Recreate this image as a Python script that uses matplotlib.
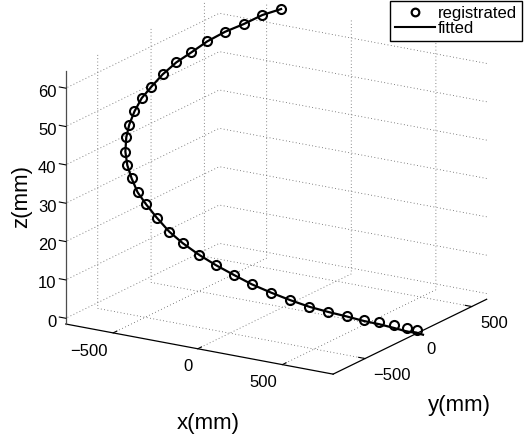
import matplotlib
matplotlib.use('Agg')
import matplotlib.pyplot as plt
from matplotlib.lines import Line2D
from matplotlib.transforms import ScaledTranslation

plt.rcParams['font.family'] = ['Liberation Sans', 'DejaVu Sans']

# --- registrated points (mm) ---
reg_x = [783, 790, 780, 754, 718, 668, 607, 538, 460, 377, 289, 198,
         102, 6, -93, -181, -270, -354, -427, -487, -538, -601, -655,
         -687, -713, -728, -719, -712, -695, -658, -626, -580, -521,
         -477, -409]
reg_y = [16, -95, -197, -295, -381, -464, -540, -608, -666, -713, -750,
         -777, -794, -800, -794, -781, -757, -723, -686, -647, -607, -525,
         -431, -352, -262, -170, -94, 1, 102, 185, 283, 378, 459, 564, 631]
reg_z = [-1.1, 0.9, 2.9, 4.8, 6.3, 8.1, 9.6, 11.3, 13.2, 15.1, 17.0, 19.1,
         21.1, 23.1, 25.2, 27.3, 29.9, 32.2, 34.2, 36.8, 39.3, 41.2, 43.2,
         45.2, 47.2, 49.3, 51.3, 53.3, 55.2, 57.0, 58.8, 60.4, 61.8, 63.1,
         64.3]

# --- fitted curve (mm) ---
fit_x = [815, 783, 790, 780, 754, 718, 668, 607, 538, 460, 377, 289, 198,
         102, 6, -93, -181, -270, -354, -427, -487, -538, -601, -655,
         -687, -713, -728, -719, -712, -695, -658, -626, -580, -521,
         -477, -409]
fit_y = [19, 16, -95, -197, -295, -381, -464, -540, -608, -666, -713, -750,
         -777, -794, -800, -794, -781, -757, -723, -686, -647, -607, -525,
         -431, -352, -262, -170, -94, 1, 102, 185, 283, 378, 459, 564, 631]
fit_z = [-2.2, -2.0, 0.0, 2.2, 4.3, 6.0, 7.9, 9.6, 11.3, 13.2, 15.1, 17.0,
         19.1, 21.1, 23.1, 25.2, 27.3, 29.9, 32.2, 34.2, 36.8, 39.3, 41.2,
         43.2, 45.2, 47.2, 49.3, 51.3, 53.3, 55.2, 57.0, 58.8, 60.4, 61.8,
         63.1, 64.3]

x_lim = (-780, 800)
y_lim = (-800, 640)
z_lim = (-1.5, 64.6)
x_ticks = [-500, 0, 500]
y_ticks = [-500, 0, 500]
z_ticks = [0, 10, 20, 30, 40, 50, 60]

W, H = 526, 441
S = 360  # square axes size in px
cx, cy = 276.2, H - 184.9  # box centre in px (from bottom)

fig = plt.figure(figsize=(W / 100, H / 100), dpi=100)
ax = fig.add_axes([(cx - 0.5135 * S) / W, (cy - 0.5135 * S) / H, S / W, S / H],
                  projection='3d', proj_type='ortho')
ax.view_init(elev=17.6, azim=-58.2)
ax.set_box_aspect((582, 539, 492), zoom=933.4 / (1.9057 * S))

ax.plot(fit_x, fit_y, fit_z, '-', color='k', lw=1.6, clip_on=False)
ax.plot(reg_x, reg_y, reg_z, 'o', mfc='none', mec='k', mew=1.5, ms=6.5,
        clip_on=False)

ax.set_xlim(x_lim)
ax.set_ylim(y_lim)
ax.set_zlim(z_lim)
ax.set_xticks(x_ticks)
ax.set_yticks(y_ticks)
ax.set_zticks(z_ticks)

# put the z axis on the left front edge, like MATLAB
ax.zaxis._axinfo['juggled'] = (1, 2, 0)

for axis in (ax.xaxis, ax.yaxis, ax.zaxis):
    axis.pane.set_fill(False)
    axis.pane.set_edgecolor('none')
    axis._axinfo['grid'].update(color='0.35', linewidth=0.6,
                                linestyle=(0, (1, 3)))
    axis._axinfo['tick']['inward_factor'] = 0.0
    axis._axinfo['tick']['outward_factor'] = 0.3
    axis.line.set_color('k')
    axis.line.set_linewidth(0.9)
ax.zaxis.line.set_color('0.3')

ax.tick_params(axis='x', labelsize=12, pad=-3.6)
ax.tick_params(axis='y', labelsize=12, pad=-3.8)
ax.tick_params(axis='z', labelsize=12, pad=-5)

# z tick labels sit a few px lower than MATLAB's, nudge them up
_z_major_ticks = ax.zaxis.get_major_ticks
z_nudge = ScaledTranslation(0, 2.9 / 72, fig.dpi_scale_trans)


def z_major_ticks(numticks=None):
    ticks = _z_major_ticks(numticks)
    for t in ticks:
        t.label1.set_transform(ax.transData + z_nudge)
        t.label1.set_ha('right')
    return ticks


ax.zaxis.get_major_ticks = z_major_ticks

fig.canvas.draw()
for t in ax.xaxis.get_major_ticks():
    t.label1.set_ha('right')
for t in ax.yaxis.get_major_ticks():
    t.label1.set_ha('left')

# axis labels as plain figure text (MATLAB style, not rotated)
fig.text(208 / W, 1 - 423 / H, 'x(mm)', fontsize=16, ha='center', va='center')
fig.text(459 / W, 1 - 405 / H, 'y(mm)', fontsize=16, ha='center', va='center')
fig.text(22 / W, 1 - 197 / H, 'z(mm)', fontsize=16, ha='center', va='center',
         rotation=90)

h_reg = Line2D([], [], ls='none', marker='o', ms=5.5, mfc='none', mec='k',
               mew=1.6)
h_fit = Line2D([], [], color='k', lw=1.5)
leg = fig.legend([h_reg, h_fit], ['registrated', 'fitted'], loc='upper right',
                 bbox_to_anchor=(521.7 / W, 1 - 0.7 / H), fontsize=12,
                 frameon=True, fancybox=False, edgecolor='k', framealpha=1,
                 borderaxespad=0, handlelength=2.4, handletextpad=0.15,
                 borderpad=0.3, labelspacing=0.0)
leg.get_frame().set_linewidth(1.0)

fig.savefig('out.png', dpi=100)
